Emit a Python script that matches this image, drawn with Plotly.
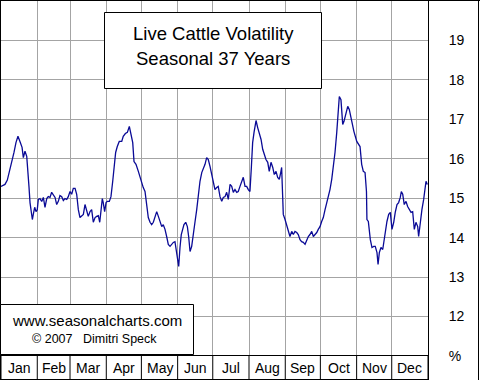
import plotly.graph_objects as go

# ---- data ----
month_names = ["Jan", "Feb", "Mar", "Apr", "May", "Jun", "Jul", "Aug", "Sep", "Oct", "Nov", "Dec"]
month_starts = [0, 31, 59, 90, 120, 151, 181, 212, 243, 273, 304, 334, 365]

day = [0, 3.4, 5.4, 7.7, 9.7, 11.1, 12.8, 14.5, 16.2, 18.0, 19.1, 20.5, 22.0, 22.8, 23.9, 24.8, 25.6, 26.8,
       27.6, 28.8, 29.9, 31.0, 31.9, 33.3, 34.8, 36.2, 37.6, 39.1, 40.4, 41.9, 43.3, 44.7, 46.2, 47.6, 49.0,
       50.4, 51.9, 53.3, 54.7, 56.2, 57.5, 59.0, 60.4, 61.8, 63.3, 64.7, 66.1, 67.5, 69.0, 70.4, 71.8, 73.3,
       74.6, 76.1, 77.5, 78.9, 80.4, 81.8, 83.2, 84.4, 85.5, 86.6, 87.4, 88.6, 89.8, 90.9, 92.6, 94.0, 95.5,
       96.6, 98.0, 99.4, 101.1, 103.2, 104.5, 106.3, 108.0, 109.7, 111.1, 112.6, 113.7, 115.4, 117.4, 118.8,
       120.3, 121.6, 123.1, 124.5, 125.9, 127.4, 128.8, 130.2, 131.6, 133.1, 134.5, 135.9, 137.4, 138.7,
       140.2, 141.6, 143.0, 144.5, 145.9, 147.3, 148.7, 149.6, 150.7, 151.9, 153.0, 154.1, 155.3, 156.4,
       157.9, 159.3, 160.4, 161.6, 163.0, 164.4, 165.8, 167.3, 168.7, 170.1, 171.6, 172.9, 174.4, 175.8,
       177.2, 178.7, 180.1, 181.5, 182.9, 184.4, 185.7, 187.2, 188.7, 190.0, 191.5, 192.9, 194.3, 195.8,
       197.2, 198.6, 200.0, 201.5, 202.8, 204.3, 205.7, 207.1, 208.6, 210.0, 211.4, 212.8, 214.0, 215.1,
       216.3, 218.0, 219.4, 220.8, 222.3, 223.7, 225.1, 226.5, 228.0, 229.3, 230.8, 232.3, 233.6, 235.1,
       236.5, 237.9, 239.1, 239.9, 240.4, 241.3, 242.8, 244.2, 245.6, 247.0, 248.5, 249.9, 251.3, 252.8,
       254.1, 255.6, 257.0, 258.4, 259.9, 261.3, 262.7, 264.1, 265.6, 267.0, 268.4, 269.9, 271.2, 272.7,
       274.1, 275.5, 277.0, 278.4, 279.8, 281.2, 282.7, 284.1, 285.5, 287.0, 288.1, 289.2, 290.6, 292.1,
       293.2, 294.9, 296.4, 297.7, 299.2, 300.6, 301.7, 304.1, 305.4, 306.9, 308.3, 309.7, 311.2, 312.4,
       312.8, 314.0, 315.7, 317.1, 318.6, 319.9, 321.4, 322.3, 323.4, 324.8, 326.3, 327.6, 328.5, 329.9,
       331.4, 332.8, 334.2, 335.7, 337.0, 338.5, 339.9, 341.3, 342.2, 343.4, 344.7, 346.2, 347.6, 349.0,
       350.5, 351.9, 353.3, 354.7, 356.2, 357.0, 358.4, 359.8, 361.3, 362.1, 363.3, 364.4]

vol = [15.30, 15.35, 15.46, 15.73, 15.98, 16.16, 16.41, 16.57, 16.44, 16.29, 16.03, 16.19, 16.06, 15.80, 15.30,
       14.89, 14.64, 14.46, 14.59, 14.77, 14.66, 14.71, 14.97, 14.99, 14.92, 15.02, 14.77, 14.99, 15.04, 15.02,
       15.15, 15.10, 15.02, 14.84, 14.92, 15.07, 15.04, 14.94, 14.99, 14.97, 15.04, 15.17, 15.10, 15.25, 15.25,
       15.10, 14.71, 14.51, 14.54, 14.59, 14.84, 14.71, 14.54, 14.66, 14.71, 14.39, 14.51, 14.54, 14.56, 14.39,
       14.79, 14.99, 14.89, 14.66, 14.89, 14.92, 14.92, 15.04, 15.43, 15.80, 16.16, 16.31, 16.44, 16.44, 16.57,
       16.64, 16.67, 16.82, 16.62, 16.41, 15.93, 15.86, 15.68, 15.53, 15.43, 15.27, 15.17, 14.79, 14.51, 14.39,
       14.33, 14.39, 14.51, 14.66, 14.54, 14.41, 14.28, 14.33, 14.21, 14.03, 13.83, 13.78, 13.83, 13.88, 13.90,
       13.75, 13.52, 13.27, 13.75, 14.08, 14.21, 14.33, 14.39, 14.28, 14.03, 13.65, 13.78, 14.03, 14.39, 14.71,
       15.10, 15.43, 15.65, 15.73, 15.86, 16.03, 15.98, 15.80, 15.60, 15.40, 15.22, 15.27, 15.30, 15.04, 14.92,
       15.02, 15.04, 15.15, 14.97, 15.35, 15.30, 15.15, 15.22, 15.15, 15.17, 15.30, 15.43, 15.53, 15.30, 15.30,
       15.22, 15.17, 15.78, 16.41, 16.67, 16.97, 16.79, 16.67, 16.49, 16.24, 16.11, 15.98, 15.91, 15.68, 15.91,
       15.78, 15.60, 15.68, 15.53, 15.48, 15.65, 15.78, 15.35, 14.59, 14.46, 14.33, 14.16, 14.03, 14.16, 14.08,
       14.16, 14.13, 14.08, 13.95, 13.90, 13.88, 13.83, 13.95, 14.03, 14.08, 14.16, 14.03, 14.08, 14.13, 14.21,
       14.28, 14.41, 14.51, 14.71, 14.89, 15.02, 15.22, 15.48, 15.80, 16.16, 16.67, 17.07, 17.58, 17.50, 16.87,
       16.95, 17.20, 17.33, 17.25, 17.05, 16.79, 16.69, 16.44, 16.36, 16.31, 15.86, 15.68, 15.65, 15.17, 14.46,
       14.41, 13.95, 13.75, 13.78, 13.78, 13.62, 13.32, 13.62, 13.75, 13.70, 14.00, 14.21, 14.41, 14.59, 14.64,
       14.21, 14.39, 14.64, 14.84, 14.89, 15.02, 15.17, 15.10, 14.84, 14.92, 14.79, 14.71, 14.64, 14.66, 14.21,
       14.39, 14.28, 14.03, 14.41, 14.71, 14.97, 15.22, 15.43, 15.35]

y_ticks = [11, 12, 13, 14, 15, 16, 17, 18, 19]
y_tick_text = ["%", "12", "13", "14", "15", "16", "17", "18", "19"]

title_lines = ["Live Cattle Volatility", "Seasonal 37 Years"]
credit_lines = ["www.seasonalcharts.com", "\u00a9 2007\u00a0\u00a0\u00a0Dimitri Speck"]

# ---- layout helpers (pixel -> paper) ----
W, H = 480, 380
ML, MR, MT, MB = 1, 52, 1, 24
PW, PH = W - ML - MR, H - MT - MB


def fx(px):
    return (px - ML) / PW


def fy(py):
    return (H - MB - py) / PH


FONT = "Liberation Sans, Arial, sans-serif"
GRID = "#a4a4a4"

fig = go.Figure()
fig.add_trace(go.Scatter(x=day, y=vol, mode="lines",
                         line=dict(color="#0a0a96", width=1.3), hoverinfo="skip"))

shapes = []
# month row separators
for d in month_starts:
    shapes.append(dict(type="line", xref="x", yref="paper", x0=d, x1=d, y0=fy(H - MB), y1=fy(380),
                       line=dict(color="black", width=1)))
# outer frame pieces
shapes += [
    dict(type="line", xref="paper", yref="paper", x0=fx(0), x1=fx(480), y0=fy(0.5), y1=fy(0.5),
         line=dict(color="black", width=1)),
    dict(type="line", xref="paper", yref="paper", x0=fx(0.5), x1=fx(0.5), y0=fy(0), y1=fy(380),
         line=dict(color="black", width=1)),
    dict(type="line", xref="paper", yref="paper", x0=fx(478.5), x1=fx(478.5), y0=fy(0), y1=fy(380),
         line=dict(color="black", width=1)),
    dict(type="line", xref="paper", yref="paper", x0=fx(428.5), x1=fx(428.5), y0=fy(0), y1=fy(380),
         line=dict(color="black", width=1)),
    dict(type="line", xref="paper", yref="paper", x0=fx(0), x1=fx(428.5), y0=fy(379.5), y1=fy(379.5),
         line=dict(color="black", width=1)),
    dict(type="line", xref="paper", yref="paper", x0=fx(0), x1=fx(428.5), y0=fy(355.5), y1=fy(355.5),
         line=dict(color="black", width=1)),
    # title box
    dict(type="rect", xref="paper", yref="paper", x0=fx(104.5), x1=fx(321.5), y0=fy(88.5), y1=fy(12.5),
         fillcolor="white", line=dict(color="black", width=1)),
    # credit box
    dict(type="rect", xref="paper", yref="paper", x0=fx(0.5), x1=fx(193.5), y0=fy(354.5), y1=fy(304.5),
         fillcolor="white", line=dict(color="black", width=1)),
]

annotations = []
for i, name in enumerate(month_names):
    mid = (month_starts[i] + month_starts[i + 1]) / 2
    annotations.append(dict(x=mid, xref="x", y=fy(367.5), yref="paper", text=name, showarrow=False,
                            xanchor="center", yanchor="middle", font=dict(family=FONT, size=14, color="black")))
annotations.append(dict(x=fx(213), y=fy(33), xref="paper", yref="paper", text=title_lines[0], showarrow=False,
                        xanchor="center", yanchor="middle", font=dict(family=FONT, size=18.5, color="black")))
annotations.append(dict(x=fx(213), y=fy(58), xref="paper", yref="paper", text=title_lines[1], showarrow=False,
                        xanchor="center", yanchor="middle", font=dict(family=FONT, size=18.5, color="black")))
annotations.append(dict(x=fx(97), y=fy(320), xref="paper", yref="paper", text=credit_lines[0], showarrow=False,
                        xanchor="center", yanchor="middle", font=dict(family=FONT, size=15, color="black")))
annotations.append(dict(x=fx(94), y=fy(339), xref="paper", yref="paper", text=credit_lines[1], showarrow=False,
                        xanchor="center", yanchor="middle", font=dict(family=FONT, size=12.5, color="black")))

fig.update_layout(
    width=W, height=H,
    margin=dict(l=ML, r=MR, t=MT, b=MB, pad=0),
    paper_bgcolor="white", plot_bgcolor="white",
    showlegend=False,
    shapes=shapes, annotations=annotations,
    xaxis=dict(range=[0, 365], tickvals=month_starts[1:-1], showticklabels=False, ticks="",
               showgrid=True, gridcolor=GRID, gridwidth=1, zeroline=False, showline=False, fixedrange=True),
    yaxis=dict(range=[11, 20], side="right", tickvals=y_ticks, ticktext=y_tick_text,
               ticks="outside", ticklen=17, tickcolor="rgba(0,0,0,0)",
               tickfont=dict(family=FONT, size=14, color="black"),
               showgrid=True, gridcolor=GRID, gridwidth=1, zeroline=False, showline=False, fixedrange=True),
)

fig.write_html("out.html", config={"displayModeBar": False},
               post_script="document.body.style.margin='0';document.body.style.overflow='hidden';")
